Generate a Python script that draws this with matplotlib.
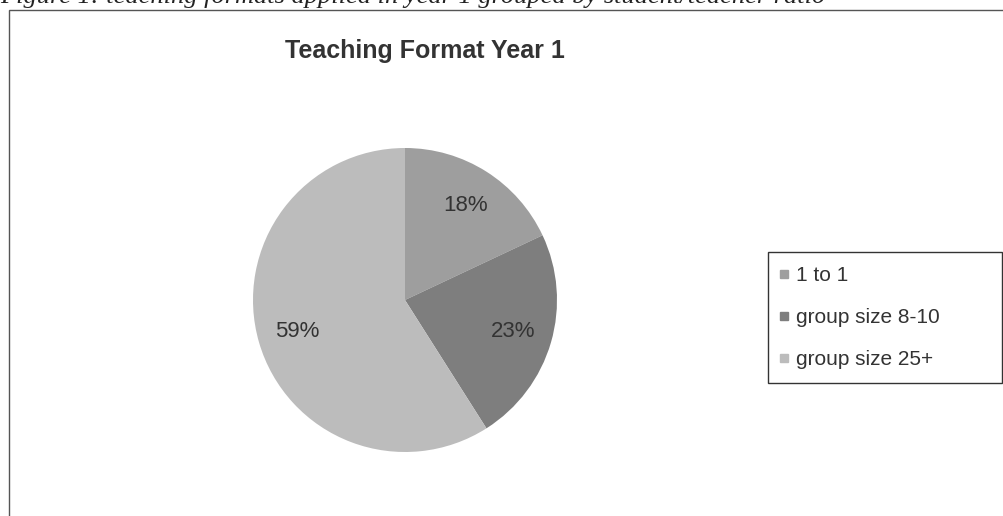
import matplotlib
matplotlib.use('Agg')
import matplotlib.pyplot as plt
from matplotlib.patches import Rectangle
from matplotlib.lines import Line2D

# data
labels = ['1 to 1', 'group size 8-10', 'group size 25+']
shares = [18, 23, 59]
colors = ['#9e9e9e', '#7e7e7e', '#bcbcbc']
title = 'Teaching Format Year 1'
caption = 'Figure 1: teaching formats applied in year 1 grouped by student/teacher ratio'

W, H = 1004, 516
fig = plt.figure(figsize=(W / 100, H / 100), dpi=100)
fig.patch.set_facecolor('white')

# clipped caption above the chart frame
fig.text(0.0, 1 - 3 / H, caption, fontsize=19, style='italic',
         family='Liberation Serif', color='#222222', va='baseline', ha='left')

# chart frame (runs off the right and bottom edge)
fig.patches.append(Rectangle((9 / W, -0.05), 1.2, 1 - 10 / H + 0.05,
                             transform=fig.transFigure, fill=False,
                             edgecolor='#555555', linewidth=1.0))

# pie axes, centre (405, 300) px, radius 152 px
cx, cy, r = 405, 300, 152
ax = fig.add_axes([(cx - r) / W, (H - cy - r) / H, 2 * r / W, 2 * r / H])
wedges, texts, autotexts = ax.pie(shares, colors=colors, startangle=90,
                                  counterclock=False, radius=1,
                                  autopct='%1.0f%%', pctdistance=0.74,
                                  textprops=dict(fontsize=16, color='#333333',
                                                 family='Liberation Sans'))
ax.set_xlim(-1, 1)
ax.set_ylim(-1, 1)
ax.set_aspect('equal', adjustable='box')

fig.text(425 / W, 1 - 58 / H, title, fontsize=18, fontweight='bold',
         family='Liberation Sans', color='#333333', ha='center', va='baseline')

# legend frame, reaching to the right edge
fig.patches.append(Rectangle((768 / W, 1 - 383 / H), 234 / W, 131 / H,
                             transform=fig.transFigure, fill=False,
                             edgecolor='#333333', linewidth=1.0))
handles = [Line2D([], [], linestyle='none', marker='s', markersize=6,
                  markerfacecolor=c, markeredgecolor=c) for c in colors]
leg = fig.legend(handles, labels, loc='upper left',
                 bbox_to_anchor=(778 / W, 1 - 266 / H),
                 prop=dict(family='Liberation Sans', size=15),
                 frameon=False, handlelength=0.6, handletextpad=0.25,
                 labelspacing=1.1, borderpad=0, borderaxespad=0)
for t in leg.get_texts():
    t.set_color('#333333')

fig.savefig('out.png', dpi=100)
